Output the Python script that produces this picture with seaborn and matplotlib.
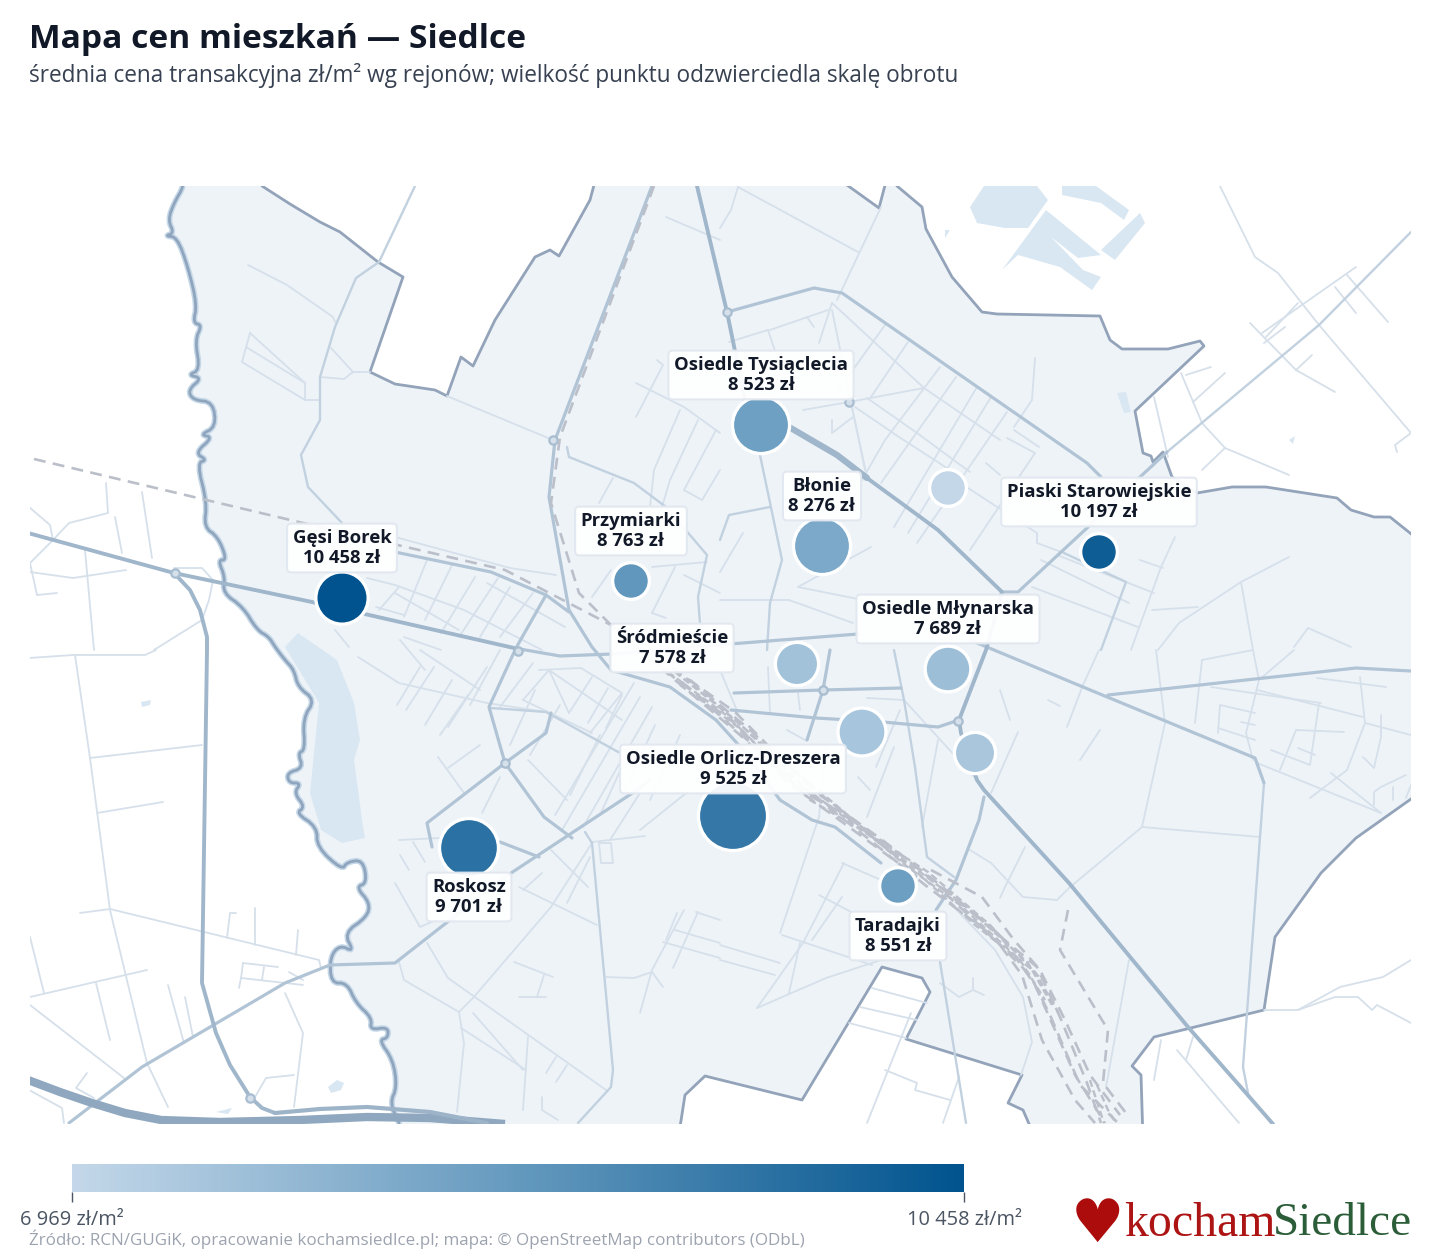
import numpy as np
import pandas as pd
import matplotlib
matplotlib.use('Agg')
import matplotlib.pyplot as plt
import seaborn as sns
from matplotlib.collections import LineCollection
from matplotlib.colors import LinearSegmentedColormap, Normalize
from matplotlib.cm import ScalarMappable

# dzielnice: pozycje w ukladzie mapy, ceny zl/m2, obrot (wzgledny)
names = ['Gęsi Borek', 'Piaski Starowiejskie', 'Roskosz', 'Osiedle Orlicz-Dreszera', 'Przymiarki',
         'Taradajki', 'Osiedle Tysiąclecia', 'Błonie', 'Osiedle Młynarska', 'Śródmieście', '', '', '']
map_x = [342, 1099, 469, 733, 631, 898, 761, 822, 948, 797, 862, 975, 948]
map_y = [598, 552, 848, 816, 581, 886, 425, 546, 669, 664, 732, 753, 488]
prices = [10458, 10197, 9701, 9525, 8763, 8551, 8523, 8276, 7689, 7578, 7500, 7450, 6969]
turnover = [680, 360, 850, 1150, 360, 360, 800, 800, 530, 480, 580, 440, 360]

boundary = [(183, 170), (262, 170), (262, 186), (290, 204), (320, 222), (340, 232), (378, 262), (403, 277), (370, 372),
            (395, 384), (435, 390), (447, 396), (461, 357), (473, 366), (495, 320), (535, 257), (550, 250), (559, 256),
            (590, 200), (598, 170), (826, 170), (879, 208), (889, 170), (897, 186), (922, 207), (926, 229), (952, 277),
            (982, 312), (997, 314), (1100, 316), (1110, 340), (1122, 349), (1168, 349), (1200, 341), (1204, 346),
            (1135, 411), (1143, 453), (1151, 456), (1153, 462), (1163, 452), (1172, 477), (1197, 493), (1232, 487),
            (1266, 487), (1337, 498), (1351, 510), (1374, 517), (1390, 517), (1425, 545), (1425, 787), (1411, 799),
            (1356, 838), (1321, 873), (1275, 937), (1264, 1010), (1154, 1037), (1132, 1066), (1141, 1075), (1143, 1140),
            (1036, 1140), (1023, 1110), (1008, 1103), (1022, 1075), (906, 1039), (930, 992), (922, 978), (882, 967),
            (802, 1100), (705, 1076), (685, 1095), (678, 1140), (403, 1140)]
river = [(399, 1123), (390, 1103), (397, 1087), (393, 1060), (379, 1040), (388, 1038), (388, 1027), (370, 1030),
         (372, 1018), (356, 1003), (347, 983), (331, 983), (330, 957), (340, 945), (354, 952), (344, 933), (367, 917),
         (370, 903), (356, 887), (367, 883), (363, 860), (347, 862), (342, 870), (317, 847), (317, 827), (296, 813),
         (305, 807), (294, 793), (301, 783), (289, 783), (287, 773), (303, 768), (298, 753), (305, 750), (303, 718),
         (315, 700), (298, 687), (294, 670), (285, 660), (275, 647), (269, 637), (257, 630), (243, 607), (223, 593),
         (225, 577), (218, 560), (227, 560), (218, 537), (204, 527), (207, 503), (197, 463), (207, 460), (195, 453),
         (213, 437), (200, 435), (216, 427), (213, 402), (193, 400), (188, 390), (202, 378), (188, 375), (200, 370),
         (195, 340), (202, 325), (193, 323), (197, 305), (188, 267), (177, 237), (165, 236), (174, 233), (168, 220),
         (174, 203), (184, 186), (183, 170)]

water = [
    [(285, 647), (298, 633), (337, 660), (354, 703), (360, 740), (354, 760), (363, 827), (365, 838), (342, 843),
     (321, 830), (310, 793), (319, 703)],
    [(984, 186), (970, 207), (977, 223), (1005, 228), (1028, 228), (1048, 200), (1037, 186)],
    [(1046, 210), (1002, 270), (1018, 255), (1060, 267), (1092, 290), (1101, 277), (1083, 270), (1051, 237),
     (1078, 258), (1101, 255)],
    [(1140, 213), (1145, 223), (1115, 260), (1101, 250)],
    [(1062, 186), (1062, 195), (1101, 203), (1124, 220), (1129, 210), (1096, 186)],
    [(945, 230), (950, 230), (945, 238)],
    [(1117, 393), (1126, 392), (1131, 412), (1124, 413)],
    [(328, 1087), (337, 1080), (344, 1083), (341, 1090), (331, 1093)],
    [(216, 1112), (232, 1108), (228, 1114)],
    [(141, 702), (151, 700), (150, 705), (142, 707)],
    [(1289, 440), (1295, 436), (1293, 444)],
]

major_roads = [
    [(28, 533), (174, 573), (312, 602), (514, 648)],
    [(697, 186), (727, 312), (745, 400)],
    [(867, 478), (938, 530), (1002, 592), (986, 650), (959, 720), (961, 733), (977, 780), (984, 790), (1069, 883), (1188, 1027), (1246, 1093), (1273, 1124)],
    [(174, 573), (190, 590), (200, 610), (207, 637), (207, 650), (202, 983), (216, 1033), (230, 1065), (250, 1097), (262, 1108), (275, 1113)],
]
thick_roads = [[(789, 427), (837, 455), (867, 478)]]
medium_roads = [
    [(514, 648), (560, 656), (612, 654), (730, 644), (858, 634)],
    [(727, 312), (814, 288), (842, 293), (1087, 463), (1101, 477)],
    [(1002, 592), (1018, 592), (1087, 528), (1140, 477), (1167, 452)],
    [(970, 640), (1083, 687), (1255, 758), (1264, 783)],
    [(1108, 695), (1356, 668), (1411, 671)],
    [(984, 797), (979, 820), (956, 880), (936, 910)],
    [(731, 710), (816, 718), (883, 722), (938, 727), (959, 720)],
    [(734, 693), (823, 690), (901, 688)],
    [(830, 650), (823, 690), (807, 740)],
    [(652, 186), (555, 440), (549, 497), (569, 610), (592, 647), (611, 670), (670, 687), (716, 720)],
    [(546, 595), (516, 648), (489, 707), (505, 763), (544, 817), (572, 838)],
    [(505, 763), (427, 823), (432, 847)],
    [(505, 763), (546, 733), (551, 713)],
    [(69, 1123), (142, 1067), (285, 983), (330, 965), (395, 963), (505, 877), (634, 792), (650, 780)],
    [(395, 552), (491, 572), (546, 595), (569, 612)],
    [(500, 842), (539, 857)],
    [(716, 720), (745, 752), (780, 800), (812, 820), (835, 827), (881, 863)],
]
light_roads = [
    [(415, 186), (379, 262), (356, 278), (335, 327), (320, 377), (320, 420), (301, 455), (308, 487), (342, 523)],
    [(760, 455), (782, 560), (770, 603), (767, 650)],
    [(894, 650), (904, 700), (915, 767), (927, 857), (954, 877)],
    [(1264, 783), (1243, 1067), (1248, 1093)],
    [(940, 962), (966, 1123)],
    [(585, 832), (592, 843), (613, 1070), (611, 1087), (578, 1123)],
    [(491, 708), (546, 712), (620, 753)],
    [(1101, 650), (1126, 582), (1064, 553)],
    [(567, 447), (569, 457), (634, 483), (666, 507), (707, 555), (698, 597), (702, 650)],
    [(720, 540), (729, 515), (770, 507)],
    [(1167, 452), (1319, 325), (1411, 232)],
]
minor_roads = [
    [(248, 265), (287, 285), (333, 317), (335, 322)],
    [(250, 333), (242, 362), (305, 400), (305, 383), (250, 333)], [(246, 347), (305, 383)], [(305, 400), (320, 400)],
    [(320, 377), (344, 379), (353, 372), (370, 372)], [(331, 348), (353, 372)], [(447, 396), (553, 440)],
    [(106, 483), (108, 513), (69, 523), (53, 540), (30, 563)], [(29, 507), (50, 525), (53, 540)], [(115, 517), (122, 553)],
    [(142, 492), (152, 558)], [(85, 550), (94, 650)], [(30, 572), (73, 578), (126, 570)], [(37, 595), (57, 593)],
    [(30, 563), (37, 595)], [(202, 620), (154, 650)], [(213, 580), (209, 600), (202, 620)], [(174, 568), (202, 568), (213, 580)],
    [(29, 658), (73, 655), (145, 655), (156, 650)], [(75, 655), (90, 758), (110, 910), (147, 1063), (168, 1107)],
    [(90, 758), (202, 745)], [(97, 813), (163, 802)], [(80, 913), (110, 909), (319, 960), (321, 968)], [(30, 937), (44, 993)],
    [(30, 997), (147, 970)], [(96, 983), (110, 1040)], [(168, 985), (184, 1043)], [(185, 997), (193, 1037)],
    [(227, 938), (230, 913), (236, 913)], [(255, 908), (255, 945)], [(298, 930), (296, 955)],
    [(243, 963), (241, 978), (239, 988)], [(243, 963), (278, 967)], [(241, 978), (303, 985)], [(264, 967), (262, 980)],
    [(289, 972), (303, 980)], [(285, 993), (303, 1033), (294, 1107)], [(255, 1097), (266, 1078), (294, 1075)],
    [(30, 1005), (124, 1078)], [(87, 1073), (76, 1088), (94, 1098)], [(29, 1090), (62, 1108), (64, 1123)],
    [(427, 943), (448, 978), (606, 1090)], [(399, 962), (404, 980), (459, 1012), (464, 1043), (457, 1112)],
    [(459, 1012), (473, 998), (551, 907), (592, 843)], [(473, 1013), (523, 1070)], [(461, 1028), (526, 1070)],
    [(528, 1037), (523, 1110)], [(556, 1057), (546, 1073)], [(567, 1065), (556, 1082)], [(514, 962), (553, 977)],
    [(544, 975), (537, 997)], [(519, 997), (546, 997)], [(542, 1097), (542, 1110), (558, 1120)],
    [(606, 977), (634, 978), (652, 972), (663, 987)], [(640, 1013), (652, 970), (684, 910)], [(666, 940), (677, 913)],
    [(698, 912), (673, 968)], [(663, 942), (720, 958)], [(675, 930), (720, 943)], [(696, 912), (720, 920)],
    [(358, 657), (399, 683), (487, 703), (546, 712)], [(500, 707), (533, 663)], [(523, 700), (549, 670), (569, 713)],
    [(569, 713), (592, 677)], [(588, 723), (608, 688)], [(606, 728), (622, 695)], [(539, 670), (581, 668), (622, 693), (590, 733)],
    [(523, 700), (592, 733)], [(549, 670), (622, 720)], [(528, 760), (567, 800)], [(480, 745), (448, 768)], [(438, 757), (464, 793)],
    [(500, 777), (482, 813)], [(562, 830), (640, 697)], [(583, 827), (652, 707)], [(555, 815), (634, 683)], [(399, 840), (441, 838)],
    [(413, 842), (425, 862)], [(400, 855), (409, 870)], [(395, 883), (420, 927), (436, 920)], [(519, 887), (597, 925)],
    [(551, 850), (588, 887)], [(523, 890), (542, 873)], [(567, 903), (590, 857)], [(592, 842), (645, 836)],
    [(599, 843), (611, 843), (613, 863), (601, 863), (599, 843)], [(640, 793), (610, 840)], [(640, 830), (690, 790)],
    [(780, 933), (819, 817)], [(782, 935), (872, 965)], [(757, 1008), (803, 943), (844, 863)], [(757, 1008), (826, 978), (881, 960)],
    [(789, 993), (800, 943)], [(842, 863), (881, 880)], [(819, 895), (876, 925)], [(812, 940), (842, 897)], [(720, 960), (775, 975)],
    [(720, 945), (780, 963)], [(950, 903), (995, 950), (1023, 997), (1032, 1042), (1021, 1075)],
    [(940, 983), (959, 997), (973, 990), (984, 995)], [(973, 978), (973, 990)], [(872, 988), (927, 1003)], [(860, 1007), (917, 1020)],
    [(849, 1023), (906, 1038)], [(885, 1070), (917, 1083), (915, 1090), (950, 1100)], [(911, 1013), (867, 1123)], [(959, 1077), (943, 1123)],
    [(970, 850), (991, 863), (1023, 897), (1057, 900), (1069, 888), (1142, 827), (1165, 723)], [(1142, 827), (1260, 837)],
    [(1025, 847), (1005, 887), (1000, 898)], [(1161, 1040), (1154, 1080)], [(1193, 1037), (1186, 1060)], [(1177, 1050), (1239, 1123)],
    [(1264, 1010), (1298, 1010), (1340, 987), (1383, 977), (1411, 960)],
    [(1298, 1010), (1335, 997), (1358, 997), (1372, 1010), (1377, 1005), (1411, 1023)], [(1129, 960), (1106, 1087)],
    [(1067, 727), (1083, 685), (1099, 650)], [(1165, 723), (1156, 650)], [(1202, 660), (1195, 723)], [(1202, 660), (1253, 650), (1259, 680), (1246, 733), (1253, 760)],
    [(1259, 680), (1294, 650)], [(1211, 687), (1321, 703)], [(1257, 690), (1363, 717)], [(1218, 733), (1220, 705), (1255, 713)],
    [(1218, 728), (1255, 740)], [(1241, 722), (1255, 725)], [(1271, 750), (1310, 765), (1319, 703)], [(1296, 730), (1280, 770)],
    [(1344, 732), (1296, 730)], [(1298, 748), (1315, 755)], [(1317, 678), (1386, 687)], [(1360, 677), (1365, 723), (1347, 770), (1310, 798)],
    [(1381, 715), (1381, 737), (1374, 768), (1363, 757)], [(1365, 723), (1411, 735)], [(1331, 773), (1381, 813)], [(1257, 763), (1381, 813)],
    [(1406, 775), (1381, 787), (1374, 792), (1374, 805)], [(1393, 787), (1393, 800)], [(1411, 785), (1406, 798)],
    [(1220, 186), (1255, 257), (1278, 273), (1319, 325), (1411, 433)], [(1250, 323), (1296, 370), (1335, 392)], [(1296, 370), (1312, 355)],
    [(1356, 267), (1262, 333)], [(1298, 303), (1266, 337)], [(1285, 327), (1264, 343)], [(1335, 287), (1356, 313)], [(1347, 275), (1388, 322)],
    [(1181, 373), (1202, 423), (1225, 448), (1289, 475)], [(1202, 470), (1225, 448)], [(1193, 402), (1225, 373)], [(1186, 375), (1211, 367)],
    [(1411, 433), (1395, 445), (1397, 452)], [(1154, 397), (1168, 457)],
    [(832, 303), (924, 388), (1000, 440)], [(828, 310), (770, 330)], [(803, 410), (849, 402), (924, 388)], [(851, 403), (867, 477)],
    [(867, 398), (917, 433), (970, 472)], [(855, 407), (899, 437), (950, 470)], [(908, 342), (871, 397)], [(885, 325), (837, 392)],
    [(940, 367), (885, 440), (858, 487)], [(956, 377), (881, 483)], [(977, 387), (894, 527)], [(991, 397), (908, 533)], [(1007, 412), (917, 543)],
    [(832, 310), (865, 470)], [(832, 303), (819, 343)], [(807, 317), (814, 327)], [(738, 187), (858, 252)], [(881, 207), (837, 300)],
    [(738, 187), (731, 210), (720, 228)], [(768, 330), (777, 357)], [(768, 330), (729, 342)], [(832, 420), (832, 433), (853, 417)],
    [(1014, 430), (1039, 447)], [(1007, 438), (1035, 453), (970, 550)], [(986, 463), (1000, 475)], [(1035, 358), (1032, 400), (1014, 427)],
    [(968, 488), (1037, 533), (1037, 543), (1064, 553)], [(1057, 555), (1154, 593)], [(1041, 560), (1129, 603)], [(1032, 587), (1138, 627)],
    [(1175, 537), (1161, 567), (1131, 650)], [(1140, 560), (1163, 568)], [(1289, 557), (1241, 582), (1179, 623), (1158, 650)],
    [(1241, 582), (1253, 650)], [(1152, 610), (1198, 607)], [(1308, 628), (1351, 647)], [(1308, 628), (1294, 647)],
    [(720, 572), (743, 533)], [(798, 587), (871, 547)], [(720, 600), (789, 600)], [(798, 587), (913, 610)], [(789, 600), (853, 623)],
    [(812, 490), (798, 560)], [(636, 383), (684, 407), (720, 433)], [(657, 360), (663, 365), (636, 417)], [(666, 217), (720, 240)],
    [(680, 410), (654, 470), (650, 507)], [(698, 420), (670, 480), (661, 510)], [(716, 430), (684, 490), (702, 500), (720, 470)],
    [(613, 478), (599, 503)], [(652, 567), (707, 562)], [(592, 597), (611, 570)], [(652, 613), (675, 567)], [(684, 575), (720, 593)],
    [(666, 618), (652, 613)], [(395, 537), (510, 568), (556, 575)], [(427, 560), (404, 617)], [(452, 565), (425, 620)], [(475, 577), (441, 633)],
    [(498, 578), (459, 637)], [(510, 587), (480, 637)], [(533, 593), (500, 637)], [(367, 578), (395, 585), (464, 610), (542, 650)],
    [(395, 593), (459, 630)], [(487, 583), (565, 627)], [(376, 607), (404, 615)], [(399, 587), (379, 610)], [(335, 630), (349, 647)],
    [(404, 637), (441, 650)], [(397, 705), (420, 667)], [(406, 710), (434, 667)], [(448, 727), (487, 667)], [(420, 650), (480, 690)],
    [(738, 713), (720, 670)], [(768, 667), (770, 713)], [(798, 693), (800, 710)], [(867, 698), (904, 700)], [(787, 730), (805, 740)],
    [(876, 767), (900, 710)], [(894, 747), (867, 817)], [(858, 777), (870, 790)], [(938, 740), (922, 827)], [(1018, 732), (991, 793)],
    [(826, 747), (819, 817)], [(904, 700), (977, 780)], [(1100, 730), (1080, 760)], [(1000, 690), (1010, 720)], [(1048, 700), (1060, 706)],
    [(425, 670), (400, 640)], [(452, 680), (425, 725)], [(468, 695), (440, 735)], [(500, 650), (470, 705)], [(535, 690), (510, 745)],
    [(560, 705), (530, 755)], [(600, 735), (570, 795)], [(625, 760), (600, 815)], [(655, 725), (625, 790)], [(680, 735), (650, 800)],
]
highway = [(28, 1080), (60, 1092), (92, 1103), (125, 1113), (161, 1120), (220, 1122), (300, 1120), (367, 1117), (430, 1118), (505, 1124)]
highway_top = [(275, 1113), (320, 1109), (367, 1107), (430, 1112), (487, 1123)]
rail_lines = [
    [(34, 459), (303, 523), (505, 570), (611, 625), (672, 676), (733, 722), (790, 785), (840, 812), (899, 857)],
    [(654, 186), (560, 437), (551, 503), (579, 593), (611, 625), (675, 680), (740, 735), (805, 795), (860, 835), (917, 877)],
    [(672, 668), (735, 712), (802, 780), (860, 825), (905, 858), (977, 917), (1037, 967), (1060, 1017), (1087, 1083), (1101, 1123)],
    [(682, 682), (745, 738), (815, 797), (870, 840), (925, 885), (985, 930), (1030, 975), (1050, 1015), (1080, 1085), (1118, 1123)],
    [(931, 870), (982, 897), (1014, 940), (1040, 970), (1065, 1020), (1090, 1075), (1120, 1115)],
    [(945, 893), (1000, 945), (1022, 975), (1042, 1040), (1075, 1100), (1095, 1123)],
    [(1068, 910), (1060, 950), (1108, 1030), (1103, 1083), (1129, 1117)],
    [(690, 680), (750, 730), (820, 795), (885, 842), (940, 885), (1000, 935), (1035, 985), (1075, 1075), (1105, 1123)],
]
yard_lines = [
    [(668, 672), (730, 718), (795, 785), (850, 818), (905, 865), (960, 905), (1020, 960), (1045, 1000)],
    [(675, 672), (738, 722), (805, 788), (855, 825), (912, 866), (968, 908), (1028, 963), (1052, 1005)],
    [(680, 685), (742, 730), (810, 800), (865, 832), (920, 875), (975, 925), (1035, 972), (1058, 1012)],
    [(686, 678), (752, 735), (818, 790), (875, 838), (928, 872), (990, 925), (1042, 980)],
    [(1090, 1080), (1098, 1105), (1104, 1123)], [(1097, 1085), (1108, 1110), (1116, 1123)],
]

FILL = '#eef3f8'
BOUNDARY = '#93a3b9'
WATER = '#d9e7f2'
TEXT = '#111827'
price_cmap = LinearSegmentedColormap.from_list('prices', ['#c3d7e9', '#6499be', '#00538e'])
price_norm = Normalize(min(prices), max(prices))

sns.set_theme(style='white')
plt.rcParams['font.family'] = ['Open Sans', 'DejaVu Sans']

fig = plt.figure(figsize=(14.4, 12.6), dpi=100, facecolor='white')
W, H = 1440.0, 1260.0


def px_rect(x0, y0, x1, y1):
    return [x0 / W, 1 - y1 / H, (x1 - x0) / W, (y1 - y0) / H]


def rounded(pts, rounds=2):
    # scina rogi, zeby rzeka nie wygladala jak lamana
    pts = np.asarray(pts, dtype=float)
    for _ in range(rounds):
        a, b = pts[:-1], pts[1:]
        inner = np.empty((len(a) * 2, 2))
        inner[0::2] = 0.75 * a + 0.25 * b
        inner[1::2] = 0.25 * a + 0.75 * b
        pts = np.vstack([pts[:1], inner, pts[-1:]])
    return pts


page = fig.add_axes([0, 0, 1, 1], zorder=0)
page.set_xlim(0, W)
page.set_ylim(H, 0)
page.axis('off')

ax = fig.add_axes(px_rect(30, 186, 1411, 1124), zorder=1)
ax.set_xlim(30, 1411)
ax.set_ylim(1124, 186)
ax.axis('off')
ax.patch.set_alpha(0)

# granica miasta + rzeka
river_line = rounded(river)
outline = np.vstack([np.array(boundary, dtype=float), river_line])
ax.add_patch(plt.Polygon(outline, closed=True, facecolor=FILL, edgecolor=BOUNDARY, lw=2, zorder=1, joinstyle='round'))
for poly in water:
    ax.add_patch(plt.Polygon(poly, closed=True, facecolor=WATER, edgecolor='none', zorder=1.2))
ax.plot(river_line[:, 0], river_line[:, 1], color='#c6d8e7', lw=4.2, zorder=1.4, solid_joinstyle='round')
ax.plot(river_line[:, 0], river_line[:, 1], color='#8fa5be', lw=2, zorder=1.5, solid_joinstyle='round')

ax.add_collection(LineCollection(minor_roads, colors='#d6e0ea', linewidths=1.3, zorder=2, capstyle='round'))
ax.add_collection(LineCollection(light_roads, colors='#c2d1df', linewidths=1.7, zorder=2.1, capstyle='round'))
ax.add_collection(LineCollection(medium_roads, colors='#b1c4d5', linewidths=2.3, zorder=2.2, capstyle='round'))
ax.add_collection(LineCollection(major_roads, colors='#a0b6cb', linewidths=2.8, zorder=2.3, capstyle='round'))
ax.add_collection(LineCollection(thick_roads, colors='#a0b6cb', linewidths=4.5, zorder=2.3, capstyle='round'))
hx, hy = zip(*highway)
ax.plot(hx, hy, color='#8fa8bf', lw=6, zorder=2.4, solid_capstyle='butt')
hx, hy = zip(*highway_top)
ax.plot(hx, hy, color='#9db3c8', lw=3, zorder=2.4)
for node_x, node_y in [(823, 690), (518, 651), (250, 1098), (175, 573), (553, 440), (505, 763), (727, 312), (849, 402), (958, 721)]:
    ax.plot(node_x, node_y, 'o', ms=6, mfc='#d5e0ea', mec='#a9bdd0', mew=1.6, zorder=2.45)
ax.add_collection(LineCollection(rail_lines, colors='#bbbfc9', linewidths=1.9, linestyles=(0, (4.5, 2.8)), zorder=2.5))
ax.add_collection(LineCollection(yard_lines, colors='#bbbfc9', linewidths=1.7, linestyles=(0, (3, 1.6)), zorder=2.5))

df = pd.DataFrame({'name': names, 'x': map_x, 'y': map_y, 'price': prices, 'turnover': turnover})
sns.scatterplot(data=df, x='x', y='y', hue='price', hue_norm=price_norm, palette=price_cmap,
                size='turnover', sizes=(700, 2480), size_norm=(360, 1150), legend=False,
                edgecolor='white', linewidth=2.4, ax=ax, zorder=4)
ax.set_xlabel('')
ax.set_ylabel('')
ax.set_xlim(30, 1411)
ax.set_ylim(1124, 186)

# etykiety: nad punktem, chyba ze w slowniku inaczej
label_spots = {'Śródmieście': (672, 648), 'Roskosz': (469, 897), 'Taradajki': (898, 936), 'Osiedle Orlicz-Dreszera': (733, 769)}
for row in df.itertuples():
    if not row.name:
        continue
    lx, ly = label_spots.get(row.name, (row.x, row.y - 50))
    txt = f'{row.name}\n{row.price:,} zł'.replace(',', ' ')
    ax.text(lx, ly, txt, ha='center', va='center', fontsize=13.3, fontweight='bold', color=TEXT, linespacing=1.12, zorder=6,
            bbox=dict(boxstyle='round,pad=0.3,rounding_size=0.22', fc='white', ec='#e2e8f0', lw=1.5, alpha=0.94))

page.text(29, 40, 'Mapa cen mieszkań — Siedlce', fontsize=24.1, fontweight='bold', color=TEXT, va='center', ha='left')
page.text(29, 75, 'średnia cena transakcyjna zł/m² wg rejonów; wielkość punktu odzwierciedla skalę obrotu',
          fontsize=16.3, color='#374151', va='center', ha='left')
page.text(29, 1239, 'Źródło: RCN/GUGiK, opracowanie kochamsiedlce.pl; mapa: © OpenStreetMap contributors (ODbL)',
          fontsize=12.25, color='#9ca3af', va='center', ha='left')

cax = fig.add_axes(px_rect(72, 1164, 964, 1192), zorder=2)
bar = fig.colorbar(ScalarMappable(price_norm, price_cmap), cax=cax, orientation='horizontal', ticks=[min(prices), max(prices)])
bar.outline.set_visible(False)
bar.set_ticklabels([f'{v:,} zł/m²'.replace(',', ' ') for v in (min(prices), max(prices))])
cax.tick_params(length=7, width=1, color='#4b5563', labelcolor='#4b5563', labelsize=14.4, pad=6, bottom=True)

# logo
page.text(1098, 1225, '♥', family='DejaVu Sans', fontsize=43, color='#ad0c0c', ha='center', va='center')
page.text(1124, 1224, 'kocham', family='Liberation Serif', fontsize=34.5, color='#ad1414', ha='left', va='center')
page.text(1412, 1224, 'Siedlce', family='Liberation Serif', fontsize=34, color='#2b5e38', ha='right', va='center')

fig.savefig('out.png', dpi=100, facecolor='white')
